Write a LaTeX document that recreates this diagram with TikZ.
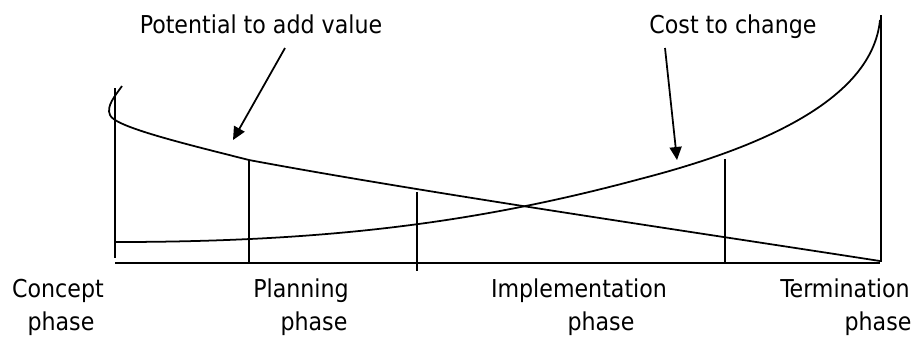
\documentclass[tikz,border=0pt]{standalone}
\usepackage{fontspec}
\setmainfont{DejaVu Sans Condensed}
\usetikzlibrary{arrows.meta}
\tikzset{
  lbl/.style={font=\fontsize{7pt}{8pt}\selectfont, inner sep=0pt, anchor=base},
  curve/.style={line width=0.5pt},
  pointer/.style={line width=0.5pt, -{Triangle[length=3.7pt,width=3.4pt]}}
}
\begin{document}
\begin{tikzpicture}[x=0.01cm, y=-0.01cm]
  \useasboundingbox (0,0) rectangle (919,338);
  % axis and phase borders
  \draw[curve] (115,263) -- (880,263);
  \draw[curve] (115,88) -- (115,258);
  \draw[curve] (881,15) -- (881,262);
  \draw[curve] (249,160) -- (249,263);
  \draw[curve] (417,192) -- (417,271);
  \draw[curve] (725,159) -- (725,262);
  % potential to add value
  \draw[curve] (122,86) .. controls (115,96) and (106,106) .. (110,115)
    .. controls (114,127) and (190,145) .. (249,160)
    .. controls (420,192) and (700,233) .. (880,261);
  % cost to change
  \draw[curve] (115,242) .. controls (330,242) and (480,222) .. (640,179)
    .. controls (760,148) and (872,100) .. (880,20);
  % labels
  \node[lbl] (pv) at (261,33) {Potential to add value};
  \node[lbl] (ctc) at (733,33) {Cost to change};
  \coordinate (pvfrom) at (285,48);
  \coordinate (pvtip) at (233,140);
  \coordinate (ctcfrom) at (665,48);
  \coordinate (ctctip) at (677,160);
  \draw[pointer] (pvfrom) -- (pvtip);
  \draw[pointer] (ctcfrom) -- (ctctip);
  % phases
  \node[lbl] (concept) at (58,297) {Concept};
  \node[lbl] (conceptb) at (61,330) {phase};
  \node[lbl] (planning) at (301,297) {Planning};
  \node[lbl] (planningb) at (314,330) {phase};
  \node[lbl] (impl) at (579,297) {Implementation};
  \node[lbl] (implb) at (601,330) {phase};
  \node[lbl] (term) at (845,297) {Termination};
  \node[lbl] (termb) at (878,330) {phase};
\end{tikzpicture}
\end{document}
